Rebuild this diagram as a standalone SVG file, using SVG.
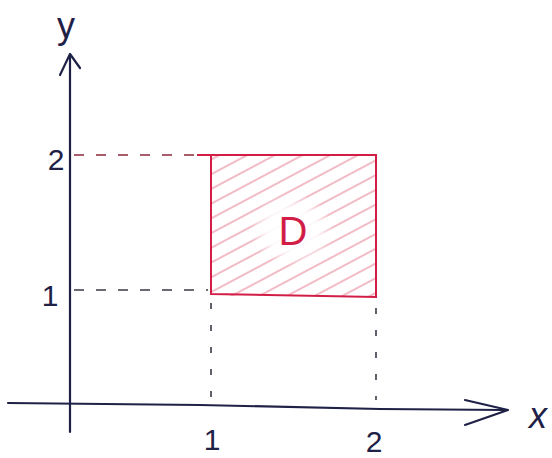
<svg xmlns="http://www.w3.org/2000/svg" width="552" height="458" viewBox="0 0 552 458">
  <style>
    .axis { stroke: #1f2146; stroke-width: 2.2; fill: none; stroke-linecap: round; stroke-linejoin: round; }
    .lbl { font-family: "Liberation Sans", "DejaVu Sans", sans-serif; font-size: 30px; fill: #1f2146; }
    .guide { stroke: #3a3a4a; stroke-width: 1.6; stroke-dasharray: 10 12; fill: none; }
    .guideR { stroke: #8a2a3a; stroke-width: 1.6; stroke-dasharray: 10 12; fill: none; }
    .vguide { stroke: #3a3a4a; stroke-width: 1.6; stroke-dasharray: 6 16; fill: none; }
    .region { stroke: #d21e46; stroke-width: 2; fill: none; }
    .hatch { stroke: #d8506a; stroke-width: 1.1; opacity: 0.7; }
  </style>
  <defs>
    <pattern id="hatch" width="13" height="13" patternUnits="userSpaceOnUse" patternTransform="rotate(-28)">
      <line class="hatch" x1="0" y1="6" x2="13" y2="6"/>
    </pattern>
    <radialGradient id="fade" cx="0.5" cy="0.5" r="0.5">
      <stop offset="0" stop-color="#ffffff" stop-opacity="1"/>
      <stop offset="0.6" stop-color="#ffffff" stop-opacity="0.9"/>
      <stop offset="1" stop-color="#ffffff" stop-opacity="0"/>
    </radialGradient>
  </defs>
  <rect width="552" height="458" fill="#ffffff"/>

  <g id="connectors">
    <path class="guideR" d="M74 155 H208"/>
    <path class="guide" d="M74 290 H208"/>
    <path class="vguide" d="M211 303 V400"/>
    <path class="vguide" d="M376 308 V400"/>
  </g>

  <g id="region-D">
    <rect x="211" y="156" width="165" height="140" fill="url(#hatch)"/>
    <ellipse cx="292" cy="230" rx="42" ry="36" fill="url(#fade)"/>
    <path class="region" d="M197 155 H376 V297 L211 294 V156"/>
    <text x="293" y="245" text-anchor="middle" style="font-family:'Liberation Sans','DejaVu Sans',sans-serif;font-size:40px;fill:#d21e46">D</text>
  </g>

  <g id="y-axis">
    <path class="axis" d="M70 432 L70 55"/>
    <path class="axis" d="M60 75 L70 54 L80 68"/>
    <text class="lbl" x="66" y="38" text-anchor="middle" style="font-size:36px">y</text>
    <text class="lbl" x="56" y="170" text-anchor="middle">2</text>
    <text class="lbl" x="50" y="306" text-anchor="middle">1</text>
  </g>

  <g id="x-axis">
    <path class="axis" d="M8 403 L200 405 L380 409 L505 410"/>
    <path class="axis" d="M465 400 L508 410 L465 425"/>
    <text class="lbl" x="538" y="428" text-anchor="middle" style="font-style:italic;font-size:36px">x</text>
    <text class="lbl" x="212" y="450" text-anchor="middle">1</text>
    <text class="lbl" x="374" y="452" text-anchor="middle">2</text>
  </g>
</svg>
